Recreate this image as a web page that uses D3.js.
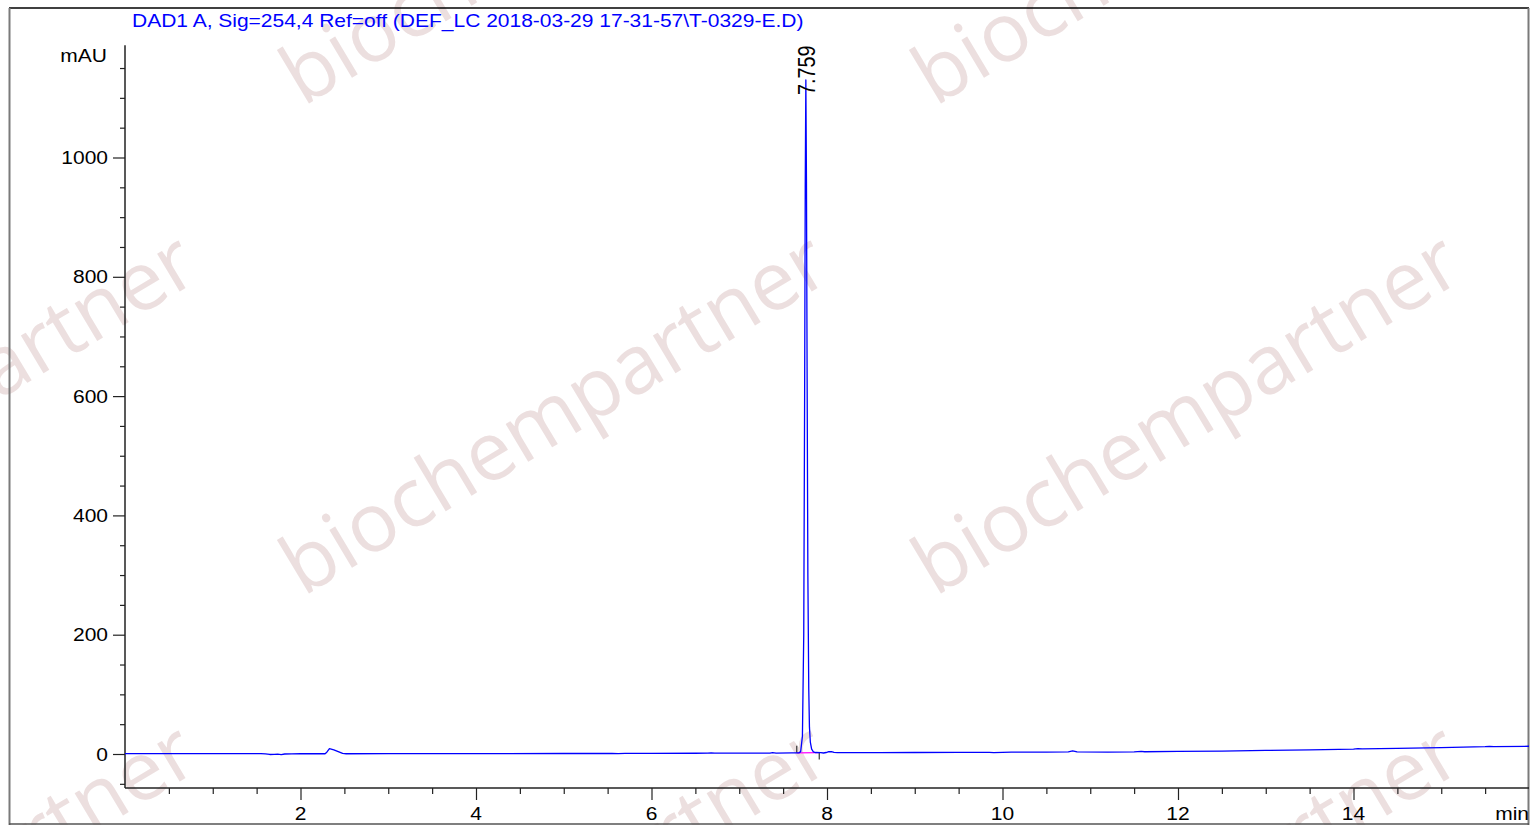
<!DOCTYPE html>
<html>
<head>
<meta charset="utf-8">
<script src="https://cdn.jsdelivr.net/npm/d3@7"></script>
<style>
  html, body { margin: 0; padding: 0; background: #fff; }
  svg { display: block; }
  text { font-family: "Liberation Sans", Arial, sans-serif; }
</style>
</head>
<body>
<div id="chart"></div>
<script>
// signal trace, retention time (min) / absorbance (mAU)
const time = [
  0.00, 0.50, 1.00, 1.55, 1.60, 1.65, 1.70, 1.74, 1.78, 1.82, 1.90, 2.00,
  2.28, 2.30, 2.33, 2.38, 2.43, 2.48, 2.52, 3.00, 4.00, 5.00, 5.55, 5.62,
  5.70, 6.00, 6.50, 6.64, 6.68, 6.72, 7.20, 7.35, 7.38, 7.42, 7.60, 7.68,
  7.70, 7.72, 7.735, 7.745, 7.752, 7.759, 7.766, 7.773, 7.782, 7.792, 7.80, 7.81,
  7.825, 7.845, 7.87, 7.93, 7.96, 7.99, 8.02, 8.05, 8.08, 8.12, 8.30, 8.60,
  9.00, 9.50, 9.85, 9.90, 10.00, 10.10, 10.50, 10.75, 10.80, 10.85, 11.20, 11.50,
  11.58, 11.62, 12.00, 12.50, 13.00, 13.50, 14.00, 14.05, 14.10, 14.50, 15.00, 15.50,
  15.55, 15.60, 16.00
];
const mAU = [
  0.5, 0.5, 0.5, 0.5, 0.2, -0.8, -0.5, -0.3, -1.0, 0.0, 0.3, 0.4,
  0.4, 3.0, 9.0, 7.0, 4.0, 1.0, 0.4, 0.5, 0.6, 0.8, 1.0, 0.6,
  1.0, 1.2, 1.3, 1.4, 1.9, 1.4, 1.5, 1.6, 2.3, 1.6, 1.8, 1.9,
  4, 30, 200, 600, 950, 1130, 960, 650, 300, 110, 45, 20,
  8, 3.5, 2.5, 2.4, 1.7, 2.5, 3.8, 4.0, 2.6, 2.2, 2.3, 2.4,
  2.5, 2.6, 2.7, 2.3, 2.6, 3.1, 3.3, 3.5, 5.2, 3.6, 3.2, 3.6,
  4.3, 3.8, 4.3, 4.9, 6.0, 7.0, 8.2, 9.0, 8.6, 9.4, 10.6, 12.2,
  12.8, 12.4, 13.0
];

const title = "DAD1 A, Sig=254,4 Ref=off (DEF_LC 2018-03-29 17-31-57\\T-0329-E.D)";
const yTickLabels = [0, 200, 400, 600, 800, 1000];
const xTickLabels = [2, 4, 6, 8, 10, 12, 14];
const peakTimes = [7.759];
const peakLabels = ["7.759"];
const baselineStart = [7.655];
const baselineEnd = [7.912];
const watermark = "biochempartner";

const width = 1531, height = 825;
const fs = 21;
const svg = d3.select("#chart").append("svg")
  .attr("width", width).attr("height", height);

// watermark tiles
const wmCols = [-1, 0, 1], wmRows = [-1, 0, 1];
const wm = svg.append("g");
wmRows.forEach(function (r) {
  wmCols.forEach(function (c) {
    wm.append("text")
      .attr("transform", "translate(" + (303 + c * 632) + "," + (597 + r * 490) + ") rotate(-31)")
      .style("font-family", "'Open Sans', 'Noto Sans', sans-serif")
      .attr("font-size", 82)
      .attr("fill", "#ecdfdf")
      .text(watermark);
  });
});

const x = d3.scaleLinear().domain([0, 16]).range([125, 1529]);
const y = d3.scaleLinear().domain([0, 1000]).range([754, 157.5]);
const yLow = -57, yHigh = 1188;

// frame
svg.append("line").attr("x1", 9).attr("x2", 1529).attr("y1", 8).attr("y2", 8)
  .attr("stroke", "#000").attr("stroke-width", 1.5);
svg.append("line").attr("x1", 9.5).attr("x2", 9.5).attr("y1", 8).attr("y2", 825)
  .attr("stroke", "#7a7a7a").attr("stroke-width", 2);
svg.append("line").attr("x1", 1528.5).attr("x2", 1528.5).attr("y1", 8).attr("y2", 825)
  .attr("stroke", "#7a7a7a").attr("stroke-width", 2);
svg.append("line").attr("x1", 9).attr("x2", 1529).attr("y1", 824).attr("y2", 824)
  .attr("stroke", "#555").attr("stroke-width", 1.5);

// y axis
const yAxis = d3.axisLeft(y)
  .tickValues(d3.range(-50, 1151, 50))
  .tickSize(5)
  .tickFormat("");
const gy = svg.append("g").attr("transform", "translate(125,0)").call(yAxis);
gy.select(".domain").remove();
gy.selectAll(".tick line")
  .attr("x2", function (d) { return d % 200 === 0 ? -12 : -5; })
  .attr("stroke", "#222").attr("stroke-width", 1.2);
svg.append("line").attr("x1", 125).attr("x2", 125)
  .attr("y1", y(yHigh)).attr("y2", y(yLow))
  .attr("stroke", "#222").attr("stroke-width", 1.5);

gy.selectAll(".ylab").data(yTickLabels).enter().append("text")
  .attr("transform", function (d) { return "translate(-17," + (y(d) + 6.5) + ") scale(1,0.84)"; })
  .attr("text-anchor", "end")
  .attr("font-size", fs)
  .attr("fill", "#000")
  .text(function (d) { return d; });

svg.append("text")
  .attr("transform", "translate(107,62) scale(1,0.84)")
  .attr("text-anchor", "end")
  .attr("font-size", fs)
  .attr("fill", "#000")
  .text("mAU");

// x axis
const xAxis = d3.axisBottom(x)
  .tickValues(d3.range(0.5, 15.6, 0.5))
  .tickSize(6)
  .tickFormat("");
const gx = svg.append("g").attr("transform", "translate(0," + y(yLow) + ")").call(xAxis);
gx.select(".domain").remove();
gx.selectAll(".tick line")
  .attr("y2", function (d) { return d % 2 === 0 ? 12 : 6; })
  .attr("stroke", "#222").attr("stroke-width", 1.2);
svg.append("line").attr("x1", 125).attr("x2", 1529)
  .attr("y1", y(yLow)).attr("y2", y(yLow))
  .attr("stroke", "#222").attr("stroke-width", 1.5);

gx.selectAll(".xlab").data(xTickLabels).enter().append("text")
  .attr("transform", function (d) { return "translate(" + x(d) + ",32) scale(1,0.84)"; })
  .attr("text-anchor", "middle")
  .attr("font-size", fs)
  .attr("fill", "#000")
  .text(function (d) { return d; });

svg.append("text")
  .attr("transform", "translate(1529,820) scale(1,0.84)")
  .attr("text-anchor", "end")
  .attr("font-size", fs)
  .attr("fill", "#000")
  .text("min");

// title
svg.append("text")
  .attr("transform", "translate(132,27) scale(1,0.84)")
  .attr("font-size", fs)
  .attr("fill", "#0000ff")
  .text(title);

// integration baseline and markers
const bl = d3.range(baselineStart.length).map(function (i) {
  return { t0: baselineStart[i], t1: baselineEnd[i] };
});
svg.selectAll(".bline").data(bl).enter().append("line")
  .attr("x1", function (d) { return x(d.t0); })
  .attr("x2", function (d) { return x(d.t1); })
  .attr("y1", y(1.9)).attr("y2", y(2.4))
  .attr("stroke", "#ff00ff").attr("stroke-width", 1.2);
svg.selectAll(".bstart").data(bl).enter().append("line")
  .attr("x1", function (d) { return x(d.t0); })
  .attr("x2", function (d) { return x(d.t0); })
  .attr("y1", y(1.9) - 7).attr("y2", y(1.9))
  .attr("stroke", "#444").attr("stroke-width", 1.3);
svg.selectAll(".bend").data(bl).enter().append("line")
  .attr("x1", function (d) { return x(d.t1); })
  .attr("x2", function (d) { return x(d.t1); })
  .attr("y1", y(2.4)).attr("y2", y(2.4) + 7)
  .attr("stroke", "#444").attr("stroke-width", 1.3);

// trace
const pts = d3.zip(time, mAU);
const line = d3.line()
  .x(function (d) { return x(d[0]); })
  .y(function (d) { return y(d[1]); });
svg.append("path")
  .datum(pts)
  .attr("d", line)
  .attr("fill", "none")
  .attr("stroke", "#0000ff")
  .attr("stroke-width", 1.3)
  .attr("stroke-linejoin", "round");

// peak labels
svg.selectAll(".plab").data(d3.zip(peakTimes, peakLabels)).enter().append("text")
  .attr("transform", function (d) { return "translate(" + (x(d[0]) + 9) + ",95) rotate(-90) scale(0.86,1)"; })
  .attr("font-size", 23)
  .attr("fill", "#000")
  .text(function (d) { return d[1]; });
</script>
</body>
</html>
